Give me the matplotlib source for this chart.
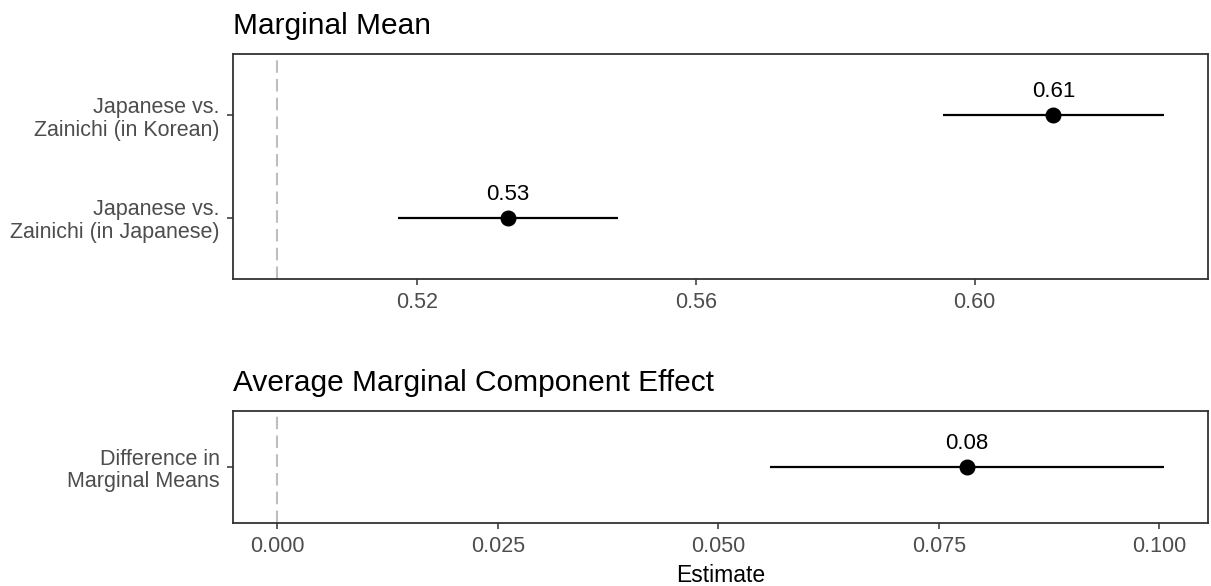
import matplotlib
matplotlib.use("Agg")
import matplotlib.pyplot as plt

plt.rcParams["font.family"] = ["Liberation Sans", "DejaVu Sans"]

# marginal means by survey language
mm_labels = ["Japanese vs.\nZainichi (in Japanese)", "Japanese vs.\nZainichi (in Korean)"]
mm_est = [0.5331, 0.6113]
mm_lo = [0.5173, 0.5955]
mm_hi = [0.5489, 0.6271]
mm_ref = 0.5
mm_ticks = [0.52, 0.56, 0.60]

# difference in marginal means
amce_labels = ["Difference in\nMarginal Means"]
amce_est = [0.0782]
amce_lo = [0.0559]
amce_hi = [0.1005]
amce_ref = 0.0
amce_ticks = [0.000, 0.025, 0.050, 0.075, 0.100]

TICK_COL = "#4D4D4D"
BORDER_COL = "#333333"


def expand(lo, hi, mult=0.05):
    span = hi - lo
    return lo - span * mult, hi + span * mult


def forest(ax, labels, est, lo, hi, ref, ticks, fmt, title):
    ys = list(range(1, len(labels) + 1))
    ax.axvline(ref, color="#BEBEBE", lw=1.5, ls=(0, (6, 3)), zorder=1)
    ax.hlines(ys, lo, hi, color="black", lw=1.6, zorder=2)
    ax.plot(est, ys, "o", color="black", ms=10.5, zorder=3)
    for x, y in zip(est, ys):
        ax.annotate(f"{x:.2f}", (x, y), xytext=(0, 18), textcoords="offset pixels",
                    ha="center", va="baseline", fontsize=16, color="black")

    ax.set_xlim(*expand(min(min(lo), ref), max(max(hi), ref)))
    ax.set_ylim(0.4, len(labels) + 0.6)
    ax.set_yticks(ys)
    ax.set_yticklabels(labels, ha="right", linespacing=1.12)
    ax.set_xticks(ticks)
    ax.set_xticklabels([fmt.format(t) for t in ticks])
    ax.tick_params(axis="both", colors=BORDER_COL, labelcolor=TICK_COL,
                   labelsize=15.5, length=4.5, width=1.1, pad=5)
    for s in ax.spines.values():
        s.set_color(BORDER_COL)
        s.set_linewidth(1.3)
    ax.set_title(title, loc="left", fontsize=21.5, pad=14.5, color="black")


fig = plt.figure(figsize=(12.11, 5.86), dpi=100)
ax_top = fig.add_axes([0.1924, 0.5239, 0.8051, 0.3840])
ax_bot = fig.add_axes([0.1924, 0.1075, 0.8051, 0.1911])

forest(ax_top, mm_labels, mm_est, mm_lo, mm_hi, mm_ref, mm_ticks, "{:.2f}", "Marginal Mean")
forest(ax_bot, amce_labels, amce_est, amce_lo, amce_hi, amce_ref, amce_ticks, "{:.3f}",
       "Average Marginal Component Effect")
ax_bot.set_xlabel("Estimate", fontsize=16.5, labelpad=5)

fig.savefig("out.png", dpi=100)
